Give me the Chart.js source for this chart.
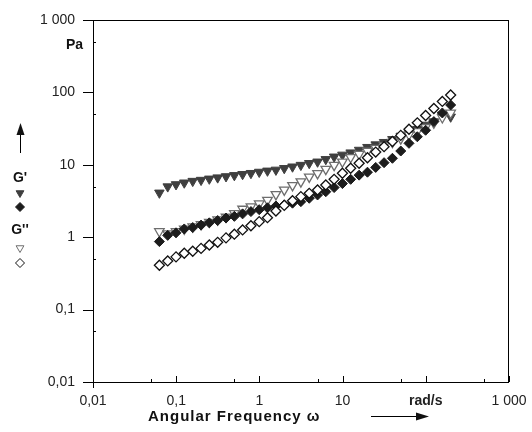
<!DOCTYPE html>
<html>
<head>
<meta charset="utf-8">
<script src="https://cdn.jsdelivr.net/npm/chart.js@4/dist/chart.umd.min.js"></script>
<style>
  html, body { margin: 0; padding: 0; background: #fff; }
</style>
</head>
<body>
<canvas id="rheo" width="532" height="432"></canvas>
<script>
// angular frequency, rad/s
var omega = [0.0628, 0.0791, 0.0995, 0.125, 0.158, 0.199, 0.25, 0.315, 0.397, 0.5,
  0.628, 0.791, 0.995, 1.25, 1.58, 1.99, 2.5, 3.15, 3.97, 5,
  6.28, 7.91, 9.95, 12.5, 15.8, 19.9, 25, 31.5, 39.7, 50,
  62.8, 79.1, 99.5, 125, 158, 199];

// sample 1 (triangles), Pa
var gPrimeTri = [4.1, 5.0, 5.35, 5.65, 5.95, 6.15, 6.4, 6.65, 6.9, 7.15,
  7.4, 7.65, 7.95, 8.25, 8.5, 8.95, 9.4, 9.9, 10.5, 11.0,
  11.9, 12.9, 13.7, 14.7, 16.0, 17.5, 19.0, 20.5, 22.5, 25.0,
  27.5, 31.0, 35.5, 39.5, 49.0, 46.0];
var gDoubleTri = [1.2, 1.12, 1.2, 1.3, 1.4, 1.5, 1.62, 1.75, 1.9, 2.14,
  2.45, 2.65, 2.9, 3.25, 3.9, 4.5, 5.2, 5.85, 6.8, 7.6,
  8.7, 9.9, 11.0, 12.7, 14.0, 15.5, 17.0, 18.5, 20.5, 23.0,
  26.0, 29.0, 33.0, 38.0, 45.0, 52.0];

// sample 2 (diamonds), Pa
var gPrimeDia = [0.87, 1.06, 1.15, 1.3, 1.36, 1.47, 1.58, 1.7, 1.84, 1.94,
  2.1, 2.26, 2.4, 2.55, 2.7, 2.8, 2.95, 3.1, 3.45, 3.83,
  4.25, 4.85, 5.5, 6.3, 7.2, 7.9, 9.2, 10.7, 12.3, 15.5,
  19.8, 24.4, 30.0, 39.5, 52.0, 67.0];
var gDoubleDia = [0.41, 0.47, 0.535, 0.6, 0.64, 0.7, 0.78, 0.85, 0.98, 1.1,
  1.26, 1.44, 1.64, 1.86, 2.3, 2.75, 3.19, 3.63, 4.04, 4.49,
  5.26, 6.3, 7.64, 8.95, 10.5, 12.5, 15.0, 17.8, 21.0, 25.5,
  31.0, 38.0, 48.0, 60.0, 75.0, 92.0];

var majorTicks = [0.01, 0.1, 1, 10, 100, 1000];
var minorTicks = [0.05, 0.5, 5, 50, 500];
var tickText = { 0.01: "0,01", 0.1: "0,1", 1: "1", 10: "10", 100: "100", 1000: "1 000" };

var FONT = "'Liberation Sans', Arial, sans-serif";

function pts(ys) {
  return omega.map(function (x, i) { return { x: x, y: ys[i] }; });
}

function setTicks(scale) {
  scale.ticks = majorTicks.concat(minorTicks).sort(function (a, b) { return a - b; })
    .map(function (v) { return { value: v, major: majorTicks.indexOf(v) >= 0 }; });
}

// frame, tick marks, and the hand-set labels of the original figure
var decor = {
  id: "decor",
  afterDraw: function (chart) {
    var c = chart.ctx, a = chart.chartArea;
    var xs = chart.scales.x, ys = chart.scales.y;
    c.save();
    c.strokeStyle = "#000";
    c.lineWidth = 1;
    c.strokeRect(a.left + 0.5, a.top + 0.5, a.right - a.left - 1, a.bottom - a.top);

    c.beginPath();
    majorTicks.forEach(function (v) {
      var py = Math.round(ys.getPixelForValue(v)) + 0.5;
      c.moveTo(a.left - 10, py); c.lineTo(a.left, py);
      var px = Math.round(xs.getPixelForValue(v)) + 0.5;
      c.moveTo(px, a.bottom); c.lineTo(px, a.bottom - 6);
    });
    minorTicks.forEach(function (v) {
      var py = Math.round(ys.getPixelForValue(v)) + 0.5;
      c.moveTo(a.left, py); c.lineTo(a.left + 3, py);
      var px = Math.round(xs.getPixelForValue(v)) + 0.5;
      c.moveTo(px, a.bottom); c.lineTo(px, a.bottom - 3);
    });
    c.moveTo(a.left + 0.5, a.bottom); c.lineTo(a.left + 0.5, a.bottom + 6);
    c.stroke();

    c.fillStyle = "#111";
    c.font = "bold 14px " + FONT;
    c.textBaseline = "middle";
    c.textAlign = "right";
    c.fillText("Pa", 83, 45);

    // x axis title + arrow
    c.textAlign = "left";
    c.font = "bold 15px " + FONT;
    c.letterSpacing = "1px";
    c.fillText("Angular Frequency \u03c9", 148, 417);
    c.letterSpacing = "0px";
    c.beginPath();
    c.moveTo(371, 416.5); c.lineTo(418, 416.5);
    c.stroke();
    c.beginPath();
    c.moveTo(429, 416.5); c.lineTo(416, 412.5); c.lineTo(416, 420.5); c.closePath();
    c.fill();

    // y axis arrow + symbol key
    c.beginPath();
    c.moveTo(20.5, 153); c.lineTo(20.5, 132);
    c.stroke();
    c.beginPath();
    c.moveTo(20.5, 123); c.lineTo(16.5, 135); c.lineTo(24.5, 135); c.closePath();
    c.fill();

    c.textAlign = "center";
    c.font = "bold 14px " + FONT;
    c.fillText("G'", 20, 178);
    c.fillText("G''", 20, 230);

    var h = Chart.helpers;
    c.lineWidth = 1;
    c.fillStyle = "#3f3f3f"; c.strokeStyle = "#3f3f3f";
    h.drawPoint(c, { pointStyle: "triangle", radius: 4.5, rotation: 180, borderWidth: 1 }, 20, 193);
    c.fillStyle = "#1c1c1c"; c.strokeStyle = "#1c1c1c";
    h.drawPoint(c, { pointStyle: "rectRot", radius: 4.5, rotation: 0, borderWidth: 1 }, 20, 207);
    c.fillStyle = "#fff"; c.strokeStyle = "#6e6e6e";
    h.drawPoint(c, { pointStyle: "triangle", radius: 4.5, rotation: 180, borderWidth: 1 }, 20, 248);
    c.strokeStyle = "#111";
    h.drawPoint(c, { pointStyle: "rectRot", radius: 4.5, rotation: 0, borderWidth: 1 }, 20, 263);
    c.restore();
  }
};

new Chart(document.getElementById("rheo"), {
  type: "scatter",
  data: {
    datasets: [
      {
        label: "G'' sample 2",
        data: pts(gDoubleDia),
        pointStyle: "rectRot",
        pointRadius: 5,
        backgroundColor: "#ffffff",
        borderColor: "#111111",
        borderWidth: 1.3,
        order: 1
      },
      {
        label: "G' sample 2",
        data: pts(gPrimeDia),
        pointStyle: "rectRot",
        pointRadius: 5,
        backgroundColor: "#1c1c1c",
        borderColor: "#1c1c1c",
        borderWidth: 1,
        order: 2
      },
      {
        label: "G'' sample 1",
        data: pts(gDoubleTri),
        pointStyle: "triangle",
        rotation: 180,
        pointRadius: 5.5,
        backgroundColor: "#ffffff",
        borderColor: "#6e6e6e",
        borderWidth: 1.3,
        order: 3
      },
      {
        label: "G' sample 1",
        data: pts(gPrimeTri),
        pointStyle: "triangle",
        rotation: 180,
        pointRadius: 5.5,
        backgroundColor: "#3f3f3f",
        borderColor: "#3f3f3f",
        borderWidth: 1,
        order: 4
      }
    ]
  },
  options: {
    responsive: false,
    devicePixelRatio: 1,
    animation: false,
    layout: { padding: { left: 0, right: 23, top: 20, bottom: 0 } },
    plugins: { legend: { display: false }, tooltip: { enabled: false } },
    scales: {
      x: {
        type: "logarithmic",
        min: 0.01,
        max: 1000,
        afterBuildTicks: setTicks,
        afterFit: function (s) { s.height = 50; },
        grid: { display: false },
        border: { display: false },
        ticks: {
          autoSkip: false,
          maxRotation: 0,
          padding: 3,
          color: "#222",
          font: function (ctx) {
            return ctx.tick && ctx.tick.value === 100
              ? { family: FONT, size: 14, weight: "bold" }
              : { family: FONT, size: 14 };
          },
          callback: function (v) {
            if (v === 100) return "rad/s";
            return tickText[v] || "";
          }
        }
      },
      y: {
        type: "logarithmic",
        min: 0.01,
        max: 1000,
        afterBuildTicks: setTicks,
        afterFit: function (s) { s.width = 93; },
        grid: { display: false },
        border: { display: false },
        ticks: {
          autoSkip: false,
          padding: 10,
          color: "#222",
          font: { family: FONT, size: 14 },
          callback: function (v) { return tickText[v] || ""; }
        }
      }
    }
  },
  plugins: [decor]
});
</script>
</body>
</html>
